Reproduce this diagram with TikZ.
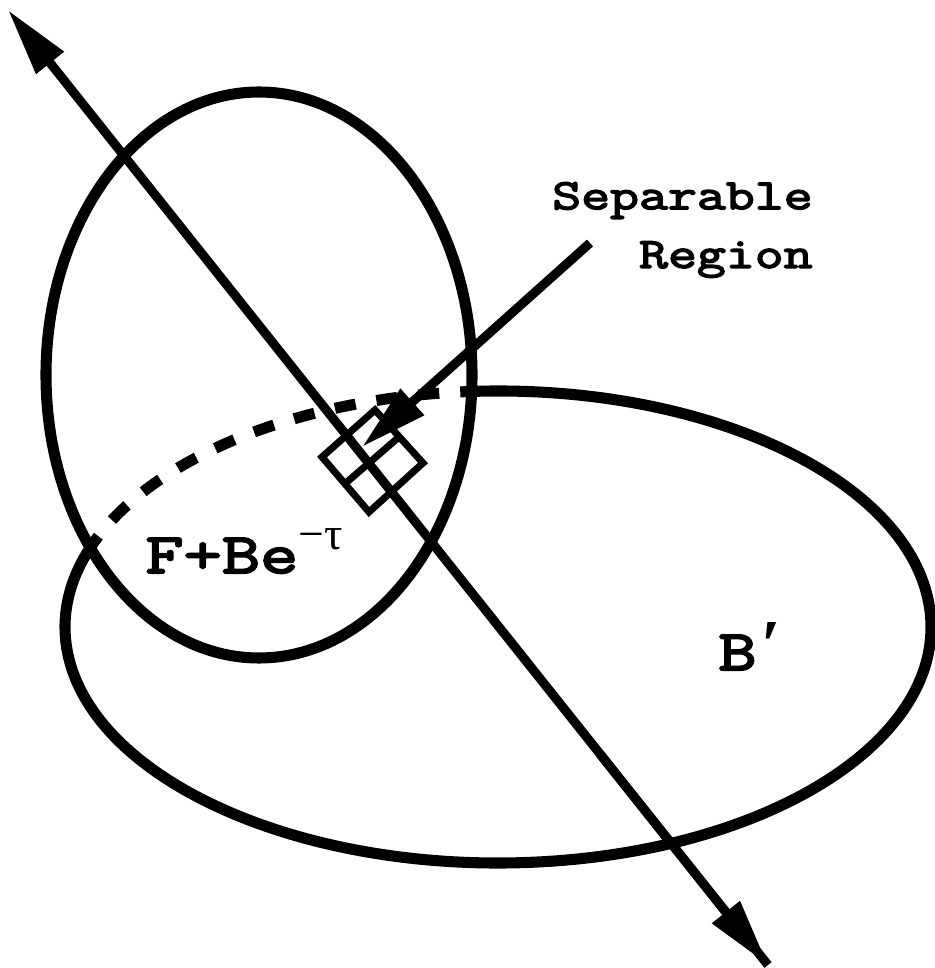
\documentclass[tikz,border=0pt]{standalone}
\usepackage{fontspec}
\usepackage{tikz}
\usetikzlibrary{arrows.meta}
\newfontfamily\labelfont[FakeStretch=1.3, FakeBold=3.5]{Latin Modern Mono}
\newfontfamily\greekfont{Liberation Serif}

\begin{document}
\begin{tikzpicture}[
            x=0.02cm, y=0.02cm,
            outline/.style={
                line width=6.3pt
            },
            axis/.style={
                line width=5.2pt
            },
            arrow/.style={
                axis,
                >={Triangle[length=38.5pt, width=19pt]}
            },
            cell/.style={
                line width=4pt,
                line join=miter
            },
            smalllabel/.style={
                inner sep=0pt,
                font=\fontsize{24.6pt}{33.4pt}\selectfont\labelfont
            },
            biglabel/.style={
                inner sep=0pt,
                font=\fontsize{32.5pt}{36pt}\selectfont\labelfont
            }
        ]
            \useasboundingbox (0,0) rectangle (935,968);

            \coordinate (axistop) at (8,958);
            \coordinate (axisbottom) at (768,3);
            \coordinate (pointerstart) at (590,725);
            \coordinate (pointertip) at (362,521);
            \coordinate (left) at (322,511);
            \coordinate (top) at (375,558);
            \coordinate (right) at (423,505);
            \coordinate (bottom) at (369,456);
            \coordinate (crossa) at (347,486);
            \coordinate (crossb) at (399,531);

            % the two regions
            \draw [outline] (259,593) ellipse [x radius=213, y radius=283];
            \draw [outline] (498,341) ++(95:433 and 236) arc [start angle=95, end angle=-200.4, x radius=433, y radius=236];
            \draw [outline, dash pattern=on 12pt off 12pt, dash phase=12pt] (498,341) ++(95:433 and 236) arc [start angle=95, end angle=159.6, x radius=433, y radius=236];

            % the small square
            \draw [cell] (left) -- (top) -- (right) -- (bottom) -- cycle;
            \draw [cell] (crossa) -- (crossb);

            \draw [arrow, <->] (axistop) -- (axisbottom);
            \draw [axis] (600,214) -- (axisbottom);
            \draw [arrow, ->] (pointerstart) -- (pointertip);

            \node [smalllabel, anchor=east, align=right] (seplabel) at (813,738) {Separable\\Region};
            \node [biglabel, anchor=base west] (fblabel) at (145,395) {F+Be\raisebox{13.2pt}{\fontsize{26pt}{26pt}\greekfont −τ}};
            \node [biglabel, anchor=base west] (blabel) at (718,298) {B\hspace{2pt}\raisebox{1pt}{\fontsize{40pt}{40pt}\greekfont\bfseries\itshape ′}};
        \end{tikzpicture}
\end{document}
